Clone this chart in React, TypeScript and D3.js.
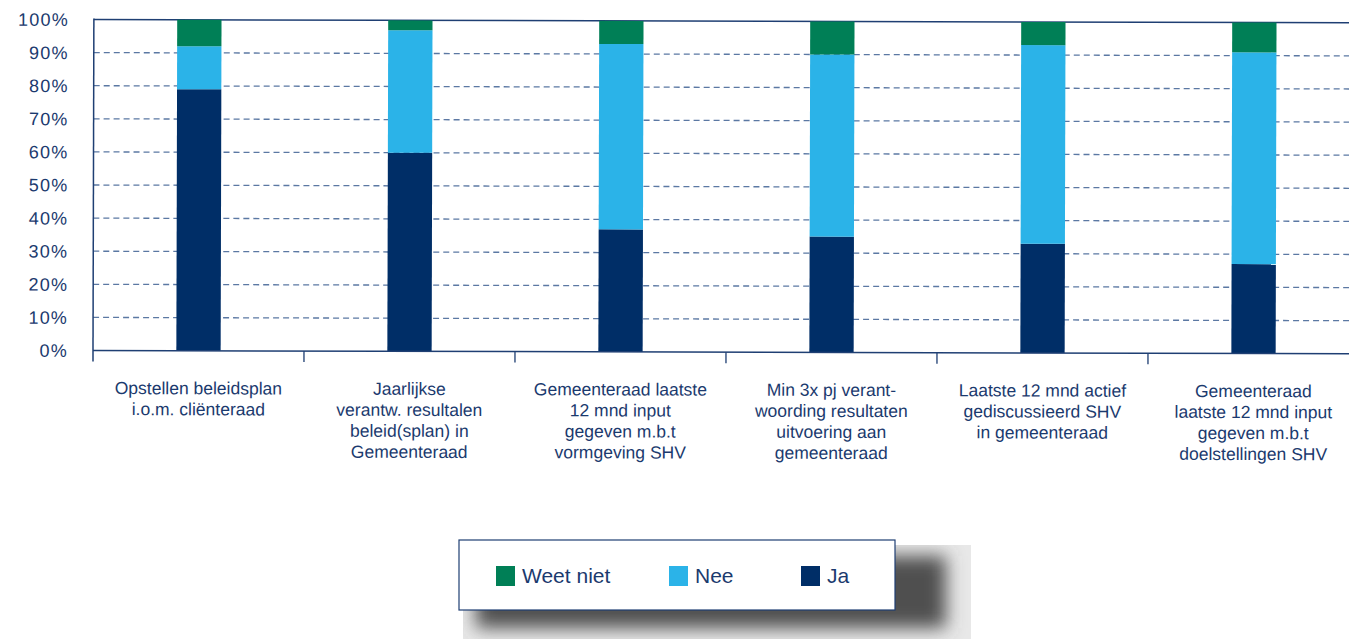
import { scaleBand, scaleLinear } from "d3";

const categories = [
  ["Opstellen beleidsplan", "i.o.m. cliënteraad"],
  ["Jaarlijkse", "verantw. resultalen", "beleid(splan) in", "Gemeenteraad"],
  ["Gemeenteraad laatste", "12 mnd input", "gegeven m.b.t", "vormgeving SHV"],
  ["Min 3x pj verant-", "woording resultaten", "uitvoering aan", "gemeenteraad"],
  ["Laatste 12 mnd actief", "gediscussieerd SHV", "in gemeenteraad"],
  ["Gemeenteraad", "laatste 12 mnd input", "gegeven m.b.t", "doelstellingen SHV"],
];

const ja = [79, 60, 37, 35, 33, 27];
const nee = [13, 37, 56, 55, 60, 64];
const weetNiet = [8, 3, 7, 10, 7, 9];

const yTicks = [0, 10, 20, 30, 40, 50, 60, 70, 80, 90, 100];

const series = [
  { label: "Weet niet", color: "#007f56", values: weetNiet },
  { label: "Nee", color: "#2bb3e8", values: nee },
  { label: "Ja", color: "#002e67", values: ja },
];

const navy = "#1b3a6e";
const font = "'Liberation Sans', Arial, sans-serif";

export default function App() {
  const width = 1349;
  const height = 639;
  const left = 93;
  const right = 1359;
  const bottom = 350.5;
  const top = 19.5;

  const slot = scaleBand<number>()
    .domain(categories.map((_, i) => i))
    .range([left, right])
    .padding(0);
  const y = scaleLinear().domain([0, 100]).range([bottom, top]);
  const barW = slot.bandwidth() * 0.21;

  // stack bottom-up: Ja, Nee, Weet niet
  const stackOrder = [series[2], series[1], series[0]];

  return (
    <svg
      width={width}
      height={height}
      style={{ position: "absolute", left: 0, top: 0, background: "#fff" }}
      fontFamily={font}
    >
      <defs>
        <filter id="blur" x="-20%" y="-60%" width="140%" height="220%">
          <feGaussianBlur stdDeviation="9" />
        </filter>
        <clipPath id="shadowClip">
          <rect x={463} y={545} width={508} height={94} />
        </clipPath>
      </defs>

      <g transform={`rotate(0.15 ${left} ${bottom})`}>
        {/* gridlines */}
        {yTicks.slice(1, -1).map((t) => (
          <line
            key={t}
            x1={left}
            x2={width + 10}
            y1={y(t)}
            y2={y(t)}
            stroke="#5b78a3"
            strokeWidth={1.3}
            strokeDasharray="6,4"
          />
        ))}
        <line x1={left} x2={width + 10} y1={y(100)} y2={y(100)} stroke="#1f3f73" strokeWidth={1.5} />

        {/* bars */}
        {categories.map((_, i) => {
          let acc = 0;
          const x0 = (slot(i) ?? 0) + (slot.bandwidth() - barW) / 2;
          return (
            <g key={i}>
              {stackOrder.map((s) => {
                const v0 = acc;
                acc += s.values[i];
                return (
                  <rect
                    key={s.label}
                    x={x0}
                    y={y(acc)}
                    width={barW}
                    height={y(v0) - y(acc)}
                    fill={s.color}
                  />
                );
              })}
            </g>
          );
        })}

        {/* axes */}
        <line x1={left} x2={width + 10} y1={bottom} y2={bottom} stroke="#1f3f73" strokeWidth={1.5} />
        <line x1={left} x2={left} y1={top - 1} y2={bottom + 11} stroke="#1f3f73" strokeWidth={1.5} />
        {categories.map((_, i) =>
          i === 0 ? null : (
            <line
              key={i}
              x1={slot(i)}
              x2={slot(i)}
              y1={bottom}
              y2={bottom + 11}
              stroke="#1f3f73"
              strokeWidth={1.3}
            />
          ),
        )}

        {/* y tick labels */}
        {yTicks.map((t) => (
          <text
            key={t}
            x={68}
            y={y(t)}
            dy="0.36em"
            textAnchor="end"
            fontSize={18}
            letterSpacing={1.2}
            fill={navy}
          >
            {t}%
          </text>
        ))}

        {/* category labels */}
        {categories.map((lines, i) => (
          <text
            key={i}
            x={(slot(i) ?? 0) + slot.bandwidth() / 2}
            y={394}
            textAnchor="middle"
            fontSize={17.5}
            fill={navy}
          >
            {lines.map((l, j) => (
              <tspan key={j} x={(slot(i) ?? 0) + slot.bandwidth() / 2} dy={j === 0 ? 0 : 21}>
                {l}
              </tspan>
            ))}
          </text>
        ))}
      </g>

      {/* legend with drop shadow */}
      <rect x={463} y={545} width={508} height={94} fill="#e8e8e8" />
      <g clipPath="url(#shadowClip)">
        <rect x={476} y={556} width={470} height={72} fill="#505050" filter="url(#blur)" />
      </g>
      <rect x={459} y={540} width={436} height={70} fill="#fff" stroke="#1f3f73" strokeWidth={1.2} />
      {[
        { s: series[0], x: 496 },
        { s: series[1], x: 669 },
        { s: series[2], x: 801 },
      ].map(({ s, x }) => (
        <g key={s.label}>
          <rect x={x} y={566} width={19} height={20} fill={s.color} />
          <text x={x + 26} y={583} fontSize={21} fill={navy}>
            {s.label}
          </text>
        </g>
      ))}
    </svg>
  );
}
